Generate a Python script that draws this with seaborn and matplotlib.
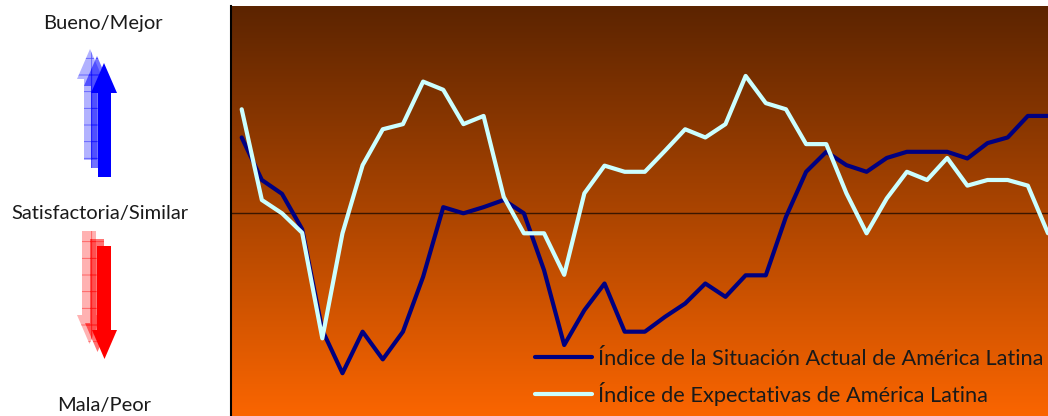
import numpy as np
import pandas as pd
import matplotlib
matplotlib.use("Agg")
import matplotlib.pyplot as plt
from matplotlib.patches import Polygon
import seaborn as sns

# ---- data ----
periodos = list(range(41))
situacion_actual = [6.48, 5.65, 5.38, 4.69, 2.72, 1.88, 2.69, 2.15, 2.69, 3.76,
                    5.12, 5.00, 5.12, 5.26, 5.00, 3.89, 2.43, 3.11, 3.63, 2.69,
                    2.69, 2.98, 3.24, 3.63, 3.37, 3.79, 3.79, 4.93, 5.81, 6.20,
                    5.94, 5.81, 6.08, 6.20, 6.20, 6.20, 6.07, 6.37, 6.48, 6.90,
                    6.90]
expectativas = [7.03, 5.26, 5.00, 4.62, 2.56, 4.61, 5.94, 6.64, 6.74, 7.57,
                7.41, 6.74, 6.90, 5.32, 4.61, 4.61, 3.80, 5.39, 5.93, 5.81,
                5.81, 6.22, 6.64, 6.48, 6.74, 7.68, 7.15, 7.03, 6.35, 6.35,
                5.39, 4.61, 5.29, 5.81, 5.65, 6.08, 5.54, 5.65, 5.65, 5.54,
                4.61]
serie_actual = "Índice de la Situación Actual de América Latina"
serie_expect = "Índice de Expectativas de América Latina"
etiquetas_escala = ["Bueno/Mejor", "Satisfactoria/Similar", "Mala/Peor"]
nivel_neutral = 5.0

df = pd.DataFrame({
    "periodo": periodos * 2,
    "valor": situacion_actual + expectativas,
    "serie": [serie_actual] * len(periodos) + [serie_expect] * len(periodos),
})

sns.set_theme(style="white")
plt.rcParams["font.family"] = ["Lato", "DejaVu Sans"]

W, H = 1048, 416
fig = plt.figure(figsize=(W / 100, H / 100), dpi=100)

# main axes
ax = fig.add_axes([231 / W, 0, 1 - 231 / W, 1 - 6 / H])
ymin, ymax = 1.045, 9.045
xmin, xmax = -0.53, 40.0

# gradient background
top = np.array([92, 36, 0]) / 255
bot = np.array([250, 101, 0]) / 255
t = np.linspace(0, 1, 256)[:, None]
grad = (top[None, :] * (1 - t) + bot[None, :] * t)[:, None, :]
ax.imshow(grad, extent=[xmin, xmax, ymin, ymax], aspect="auto",
          origin="upper", zorder=0, interpolation="bilinear")

ax.axhline(nivel_neutral, color="#3a1600", lw=1.0, zorder=1)

sns.lineplot(data=df, x="periodo", y="valor", hue="serie",
             palette={serie_actual: "#000080", serie_expect: "#ccffff"},
             linewidth=3.0, ax=ax, zorder=3, legend=True)

ax.set_xlim(xmin, xmax)
ax.set_ylim(ymin, ymax)
ax.set_xlabel("")
ax.set_ylabel("")
ax.set_xticks([])
ax.set_yticks([])
for s in ["top", "right", "bottom"]:
    ax.spines[s].set_visible(False)
ax.spines["left"].set_color("black")
ax.spines["left"].set_linewidth(1.5)

leg = ax.legend(loc="lower right", bbox_to_anchor=(1.0 + 7 / 817, -0.005),
                frameon=False, fontsize=15.7, handlelength=2.6,
                handletextpad=0.25, labelspacing=0.62, borderaxespad=0.15)
for txt in leg.get_texts():
    txt.set_color("#1a1a1a")
for ln in leg.get_lines():
    ln.set_linewidth(3.0)

# left decoration axes in pixel coordinates
ax0 = fig.add_axes([0, 0, 231 / W, 1])
ax0.set_xlim(0, 231)
ax0.set_ylim(H, 0)
ax0.axis("off")

def up_arrow(x0, x1, hx0, hx1, tip, base, bottom):
    xc = (hx0 + hx1) / 2
    return [(x0, bottom), (x0, base), (hx0, base), (xc, tip), (hx1, base),
            (x1, base), (x1, bottom)]

def down_arrow(x0, x1, hx0, hx1, topy, base, tip):
    xc = (hx0 + hx1) / 2
    return [(x0, topy), (x0, base), (hx0, base), (xc, tip), (hx1, base),
            (x1, base), (x1, topy)]

plt.rcParams["hatch.linewidth"] = 0.6
# blue arrows (ghosts first)
for dx, dy, dbot, alpha in [(-14, -14, -17, 0.3), (-7, -7, -9, 0.55)]:
    pts = up_arrow(98 + dx, 111 + dx, 91 + dx, 117 + dx, 63 + dy, 93 + dy, 177 + dbot)
    ax0.add_patch(Polygon(pts, closed=True, facecolor=(0, 0, 1, alpha),
                          edgecolor=(0, 0, 1, 0.5), linewidth=0, hatch="+"))
ax0.add_patch(Polygon(up_arrow(98, 111, 91, 117, 63, 93, 177), closed=True,
                      facecolor="#0000ff", edgecolor="none"))

# red arrows
for dx, dy, alpha in [(-15, -15, 0.3), (-7, -7, 0.55)]:
    pts = down_arrow(97 + dx, 111 + dx, 92 + dx, 117 + dx, 246 + dy, 330 + dy, 359 + dy)
    ax0.add_patch(Polygon(pts, closed=True, facecolor=(1, 0, 0, alpha),
                          edgecolor=(1, 0, 0, 0.5), linewidth=0, hatch="+"))
ax0.add_patch(Polygon(down_arrow(97, 111, 92, 117, 246, 330, 359), closed=True,
                      facecolor="#ff0000", edgecolor="none"))

ax0.text(103, 24, etiquetas_escala[0], ha="center", va="center",
         fontsize=14.5, color="#1a1a1a")
ax0.text(100, 213, etiquetas_escala[1], ha="center", va="center",
         fontsize=14.5, color="#1a1a1a")
ax0.text(104, 406, etiquetas_escala[2], ha="center", va="center",
         fontsize=14.5, color="#1a1a1a")

fig.savefig("out.png", dpi=100)
